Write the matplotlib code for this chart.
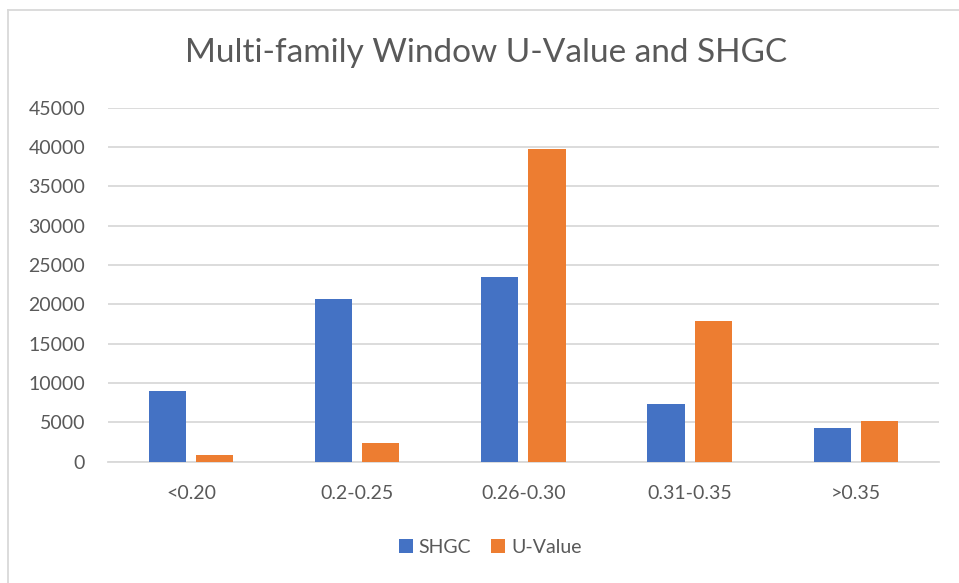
import numpy as np
import matplotlib.pyplot as plt
from matplotlib.lines import Line2D

categories = ['<0.20', '0.2-0.25', '0.26-0.30', '0.31-0.35', '>0.35']
shgc = [9000, 20650, 23500, 7300, 4250]
u_value = [900, 2350, 39700, 17900, 5200]

plt.rcParams['font.family'] = ['Lato', 'DejaVu Sans']

fig = plt.figure(figsize=(9.59, 5.83), dpi=100)
ax = fig.add_axes([0.1126, 0.208, 0.979 - 0.1126, 0.8153 - 0.208])

# outer chart border (only top and left visible in the crop)
fig.lines.append(Line2D([7.5 / 959, 7.5 / 959], [0, 1 - 9.5 / 583], transform=fig.transFigure,
                        color='#d9d9d9', linewidth=1.3))
fig.lines.append(Line2D([7.5 / 959, 1], [1 - 9.5 / 583, 1 - 9.5 / 583], transform=fig.transFigure,
                        color='#d9d9d9', linewidth=1.3))

x = np.arange(len(categories))
w = 0.224
off = 0.142
ax.bar(x - off, shgc, w, color='#4472c4', label='SHGC', zorder=3)
ax.bar(x + off, u_value, w, color='#ed7d31', label='U-Value', zorder=3)

ax.set_xlim(-0.5, len(categories) - 0.5)
ax.set_ylim(0, 45000)
ax.set_yticks(np.arange(0, 45001, 5000))
ax.set_xticks(x)
ax.set_xticklabels(categories)

ax.grid(axis='y', color='#d9d9d9', linewidth=1.3, zorder=0)
ax.set_axisbelow(True)
for s in ['top', 'right', 'left']:
    ax.spines[s].set_visible(False)
ax.spines['bottom'].set_color('#d9d9d9')
ax.spines['bottom'].set_linewidth(1.3)
ax.tick_params(axis='both', length=0, labelsize=14, colors='#595959')
ax.tick_params(axis='y', pad=16.5)
ax.tick_params(axis='x', pad=17)

fig.text(0.507, 1 - 61.7 / 583, 'Multi-family Window U-Value and SHGC', ha='center',
         va='baseline', fontsize=24, color='#595959')

ax.legend(loc='center', bbox_to_anchor=(0.46, -0.241), ncol=2, frameon=False,
          fontsize=14, labelcolor='#595959', handlelength=0.72, handleheight=0.72,
          handletextpad=0.3, columnspacing=1.05)

fig.savefig('out.png', dpi=100)
